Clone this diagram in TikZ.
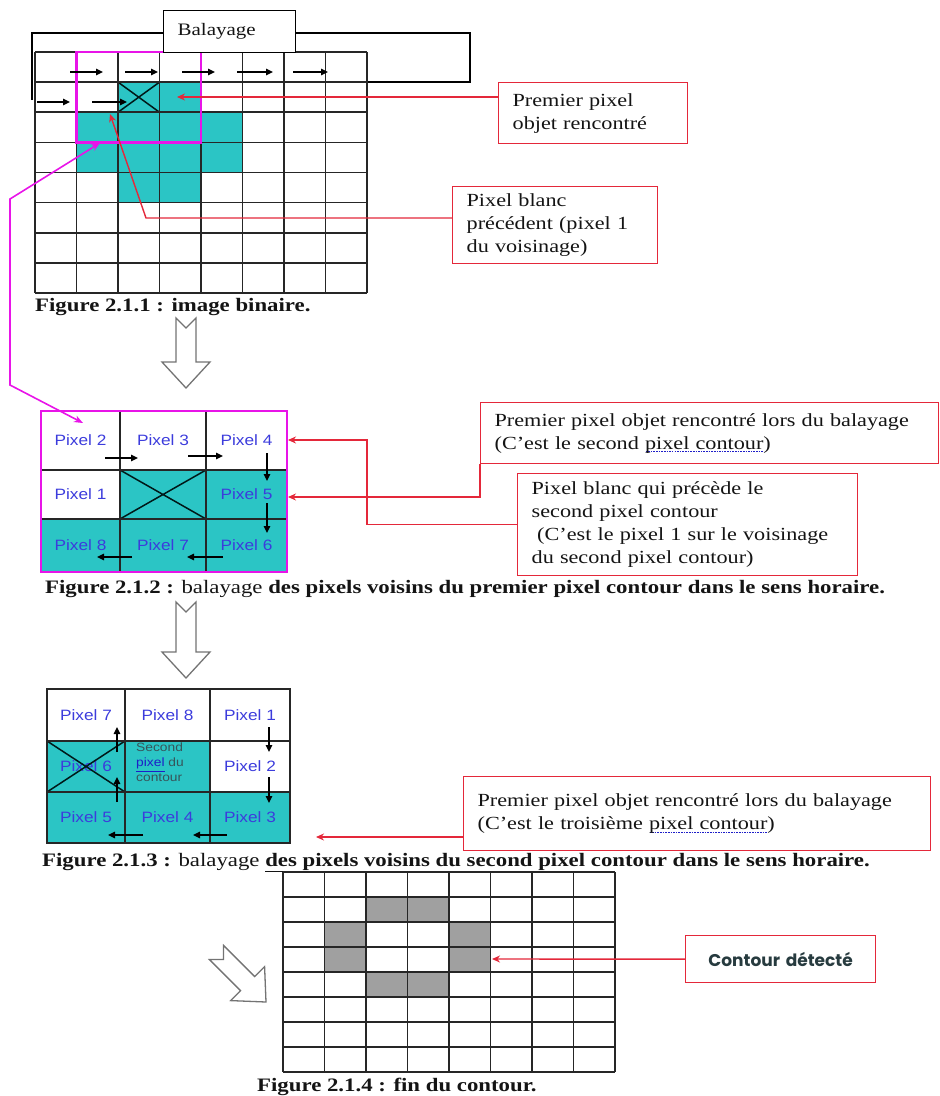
\documentclass[tikz,border=0pt]{standalone}
\usepackage{fontspec}
\setmainfont{Liberation Serif}[FakeStretch=1.2]
\newfontfamily\pxfont{Liberation Sans}[FakeStretch=1.15]
\newfontfamily\gothfont{Poppins}
\usetikzlibrary{arrows.meta,positioning}

\definecolor{cellcyan}{RGB}{43,197,197}
\definecolor{cellgray}{RGB}{160,160,160}
\definecolor{boxred}{RGB}{228,40,58}
\definecolor{scanmag}{RGB}{232,20,232}
\definecolor{pxblue}{RGB}{60,60,220}
\definecolor{inktext}{RGB}{20,20,20}
\definecolor{spellblue}{RGB}{30,30,200}
\definecolor{slate}{RGB}{55,85,90}

% blue spell-check mark under words
\newsavebox\spellbox
\newcommand\spellmark[1]{\sbox\spellbox{#1}\rlap{\textcolor{spellblue}{\raisebox{-3pt}{\hbox to\wd\spellbox{\xleaders\hbox{\kern0.5pt\rule{1.6pt}{1pt}\kern0.5pt}\hfill}}}}#1}

\begin{document}
\begin{tikzpicture}[x=1pt,y=-1pt,
  gridline/.style={line width=1.7pt,black!85},
  crossline/.style={line width=1.5pt,black!80!teal},
  magframe/.style={scanmag,line width=2.6pt},
  scanarrow/.style={line width=1.3pt,-{Triangle[length=7pt,width=6.5pt]}},
  redarrow/.style={boxred,line width=1.4pt,-{Stealth[length=8pt,width=7pt]}},
  magline/.style={scanmag,line width=1.6pt,{Stealth[length=9pt,width=7pt]}-{Stealth[length=9pt,width=7pt]}},
  callout/.style={draw=boxred,line width=1.3pt,fill=white,anchor=north west,align=left,
    inner xsep=14pt,inner ysep=3pt,text=inktext,font=\fontsize{18.5}{23}\selectfont},
  pxlabel/.style={text=pxblue,inner sep=1pt,font=\pxfont\fontsize{15}{18}\selectfont},
  caption/.style={anchor=base west,inner sep=0pt,text=inktext,font=\bfseries\fontsize{19}{22}\selectfont},
  hollow/.style={draw=black!55,line width=1.3pt,fill=white,line join=miter},
  pics/hollowarrow/.style={code={
    \draw[hollow] (-10,{-#1}) -- (0,{10-#1}) -- (10,{-#1}) -- (10,-26) -- (24,-26)
      -- (0,0) -- (-24,-26) -- (-10,-26) -- cycle;}}]
\useasboundingbox (0,0) rectangle (940,1096);

% Figure 2.1.1 : binary image
\draw[line width=1.3pt] (32,100) -- (32,33) -- (470,33) -- (470,82) -- (367,82);
\foreach \c/\r in {2/1,3/1,1/2,2/2,3/2,4/2,1/3,2/3,3/3,4/3,2/4,3/4}
  \fill[cellcyan] ({35+41.5*\c},{52+30.125*\r}) rectangle ++(41.5,30.125);
\draw[crossline] (118,82.125) -- (159.5,112.25) (118,112.25) -- (159.5,82.125);
\foreach \i in {0,...,8} {
  \draw[gridline] ({35+41.5*\i},52) -- ({35+41.5*\i},293);
  \draw[gridline] (35,{52+30.125*\i}) -- (367,{52+30.125*\i});
}
\draw[magframe] (76.5,52) rectangle (201,142.4);
\foreach \a/\b/\y in {70/103/72,125/158/72,182/215/72,237/273/72,293/328/72,37/70/102,92/127/102}
  \draw[scanarrow] (\a,\y) -- (\b,\y);
\node[callout,draw=black,text width=104pt,minimum height=42pt,font=\fontsize{17.5}{21}\selectfont] (balayage) at (163,10) {Balayage};

\node[callout,text width=161pt,minimum height=61pt] (firstbox) at (498,82) {Premier pixel\\objet rencontré};
\node[callout,text width=177pt,minimum height=77pt] (whitebox) at (452,186) {Pixel blanc\\précédent (pixel 1\\du voisinage)};
\coordinate (firstpx) at (177,97);
\coordinate (whitepx) at (110,114);
\coordinate (whiteknee) at (146,218);
\draw[redarrow] (firstbox.west |- firstpx) -- (firstpx);
\draw[redarrow] (whitebox.west |- whiteknee) -- (whiteknee) -- (whitepx);
\node[caption] (cap1) at (35,311) {Figure 2.1.1 : image binaire.};
\pic at (186,388) {hollowarrow=70};

% Figure 2.1.2 : neighbours of the first pixel
\fill[cellcyan] (120,470) rectangle (287,519);
\fill[cellcyan] (41,519) rectangle (287,572);
\draw[crossline] (120,470) -- (206,519) (120,519) -- (206,470);
\foreach \n/\x/\y in {2/80.5/440.5,3/163/440.5,4/246.5/440.5,1/80.5/494.5,5/246.5/494.5,8/80.5/545.5,7/163/545.5,6/246.5/545.5}
  \node[pxlabel] (mid\n) at (\x,\y) {Pixel \n};
\foreach \x in {120,206} \draw[gridline] (\x,411) -- (\x,572);
\foreach \y in {470,519} \draw[gridline] (41,\y) -- (287,\y);
\draw[magframe] (41,411) rectangle (287,572);
\foreach \a/\b/\c/\d in {105/458/138/458,188/456/223/456,267/453/267/481,267/503/267/533,223/557/187/557,132/557/97/557}
  \draw[scanarrow] (\a,\b) -- (\c,\d);

\coordinate (magtop) at (100,143);
\coordinate (magbend1) at (10,199);
\coordinate (magbend2) at (10,385);
\coordinate (magbot) at (83,423);
\draw[magline] (magtop) -- (magbend1) -- (magbend2) -- (magbot);

\node[callout,text width=430pt,minimum height=61pt] (secondbox) at (480,402) {Premier pixel objet rencontré lors du balayage\\(C’est le second \spellmark{pixel contour})};
\node[callout,text width=312pt,minimum height=102pt] (precbox) at (517,473) {Pixel blanc qui précède le\\second pixel contour\\\hspace*{0.3em}(C’est le pixel 1 sur le voisinage\\du second pixel contour)};
\coordinate (px4) at (288,440);
\coordinate (px5) at (288,497);
\coordinate (precknee) at (367,440);
\draw[redarrow] (secondbox.south west) |- (px5);
\draw[redarrow] (precbox.west) -| (precknee) -- (px4);
\node[caption] (cap2) at (45,593) {Figure 2.1.2 : {\mdseries balayage} des pixels voisins du premier pixel contour dans le sens horaire.};
\pic at (186,678) {hollowarrow=76};

% Figure 2.1.3 : neighbours of the second pixel
\fill[cellcyan] (47,741) rectangle (210,792);
\fill[cellcyan] (47,792) rectangle (290,843);
\foreach \n/\x/\y in {7/86/715,8/167.5/715,1/250/715,6/86/766.5,2/250/766.5,5/86/817.5,4/167.5/817.5,3/250/817.5}
  \node[pxlabel] (bot\n) at (\x,\y) {Pixel \n};
\node[anchor=north west,align=left,inner sep=0pt,text=slate,font=\pxfont\fontsize{12}{15}\selectfont] (secondpx) at (136,743) {Second\\{\color{spellblue}\underline{pixel}} du\\contour};
\draw[crossline] (47,741) -- (125,792) (47,792) -- (125,741);
\foreach \x in {125,210} \draw[gridline] (\x,689) -- (\x,843);
\foreach \y in {741,792} \draw[gridline] (47,\y) -- (290,\y);
\draw[gridline] (47,689) rectangle (290,843);
\foreach \a/\b/\c/\d in {269/727/269/752,269/777/269/803,227/835/193/835,143/835/108/835,117/802/117/777,117/752/117/727}
  \draw[scanarrow] (\a,\b) -- (\c,\d);

\node[callout,text width=439pt,minimum height=74pt] (thirdbox) at (463,776) {Premier pixel objet rencontré lors du balayage\\(C’est le troisième \spellmark{pixel contour})};
\coordinate (thirdpx) at (316,837);
\draw[redarrow] (thirdbox.west |- thirdpx) -- (thirdpx);
\node[caption] (cap3) at (42,866) {Figure 2.1.3 : {\mdseries balayage} \underline{des pixels voisins du second pixel} contour dans le sens horaire.};

% Figure 2.1.4 : end of the contour
\foreach \c/\r in {2/1,3/1,1/2,4/2,1/3,4/3,2/4,3/4}
  \fill[cellgray] ({283+41.5*\c},{872+25*\r}) rectangle ++(41.5,25);
\foreach \i in {0,...,8} {
  \draw[gridline] ({283+41.5*\i},872) -- ({283+41.5*\i},1072);
  \draw[gridline] (283,{872+25*\i}) -- (615,{872+25*\i});
}
\pic[rotate=45] at (266,1002) {hollowarrow=70};
\node[callout,align=center,text width=162pt,minimum height=47pt,text=slate!70!black,font=\gothfont\bfseries\fontsize{17}{20}\selectfont] (contourbox) at (685,935) {Contour détecté};
\coordinate (contourpx) at (492,959);
\draw[redarrow] (contourbox.west) -- (contourpx);
\node[caption] (cap4) at (257,1091) {Figure 2.1.4 : fin du contour.};
\end{tikzpicture}
\end{document}
